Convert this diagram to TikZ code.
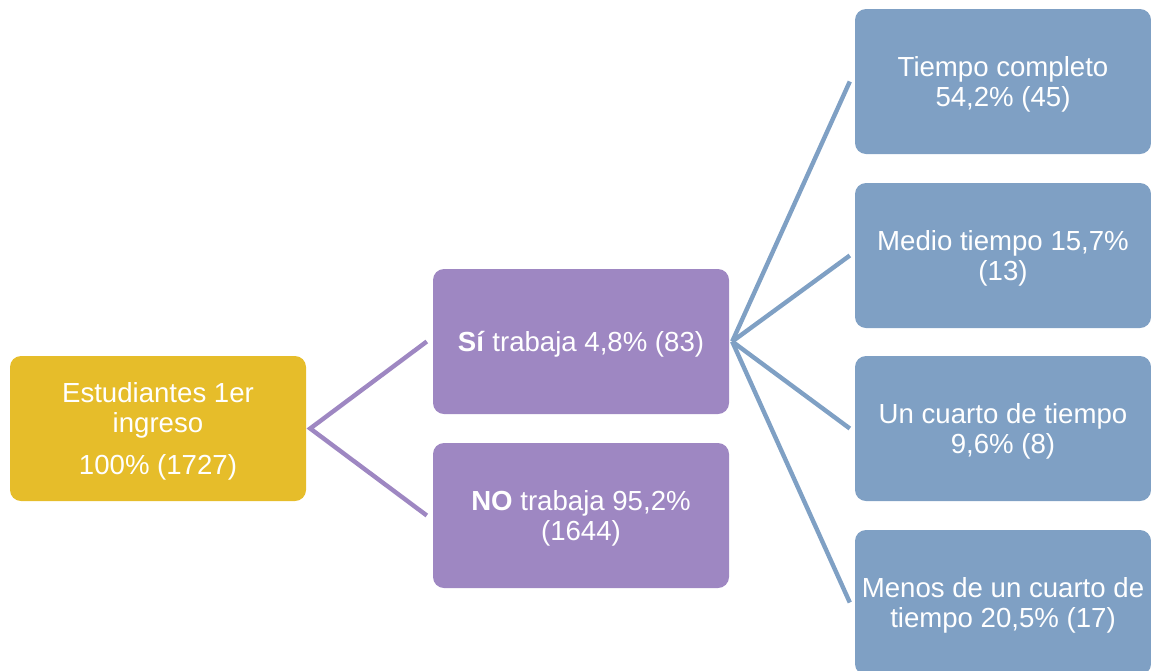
\documentclass[tikz,border=0pt]{standalone}
\usepackage{fontspec}
\setmainfont{Liberation Sans}
\definecolor{cyel}{HTML}{E6BD2A}
\definecolor{cpur}{HTML}{9E87C2}
\definecolor{cblu}{HTML}{7FA0C4}
\begin{document}
\begin{tikzpicture}[x=1pt,y=-1pt,
  box/.style={rounded corners=11pt,minimum width=296pt,minimum height=145pt,inner sep=0pt},
  txt/.style={inner sep=0pt,text=white,align=center,font=\fontsize{27.6}{30}\selectfont},
  ybox/.style={box,fill=cyel},
  pbox/.style={box,fill=cpur},
  bbox/.style={box,fill=cblu},
  pline/.style={draw=cpur,line width=4.4pt},
  bline/.style={draw=cblu,line width=4.4pt}]
\useasboundingbox (0,0) rectangle (1151,670);
\begin{scope}
\clip (0,0) rectangle (1151,670);
\node[ybox] (y) at (158,428.5) {};
\node[pbox] (p1) at (581,341.5) {};
\node[pbox] (p2) at (581,515.5) {};
\node[bbox] (b1) at (1003,81.5) {};
\node[bbox] (b2) at (1003,255.5) {};
\node[bbox] (b3) at (1003,428.5) {};
\node[bbox] (b4) at (1003,602.5) {};
\node[txt] (yt) at ([yshift=-3pt]y.center) {Estudiantes 1er\\ingreso\\[12pt]100\% (1727)};
\node[txt] (p1t) at ([yshift=-3pt]p1.center) {\textbf{Sí} trabaja 4,8\% (83)};
\node[txt] (p2t) at ([yshift=-3pt]p2.center) {\textbf{NO} trabaja 95,2\%\\(1644)};
\node[txt] (b1t) at ([yshift=-3pt]b1.center) {Tiempo completo\\54,2\% (45)};
\node[txt] (b2t) at ([yshift=-3pt]b2.center) {Medio tiempo 15,7\%\\(13)};
\node[txt] (b3t) at ([yshift=-3pt]b3.center) {Un cuarto de tiempo\\9,6\% (8)};
\node[txt] (b4t) at ([yshift=-3pt]b4.center) {Menos de un cuarto de\\tiempo 20,5\% (17)};
\coordinate (yj) at ([xshift=4pt]y.east);
\coordinate (pj) at ([xshift=3pt]p1.east);
\draw[pline] ([xshift=-6pt]p1.west) -- (yj) -- ([xshift=-6pt]p2.west);
\draw[bline] (pj) -- ([xshift=-5pt]b1.west);
\draw[bline] (pj) -- ([xshift=-5pt]b2.west);
\draw[bline] (pj) -- ([xshift=-5pt]b3.west);
\draw[bline] (pj) -- ([xshift=-5pt]b4.west);
\end{scope}
\end{tikzpicture}
\end{document}
